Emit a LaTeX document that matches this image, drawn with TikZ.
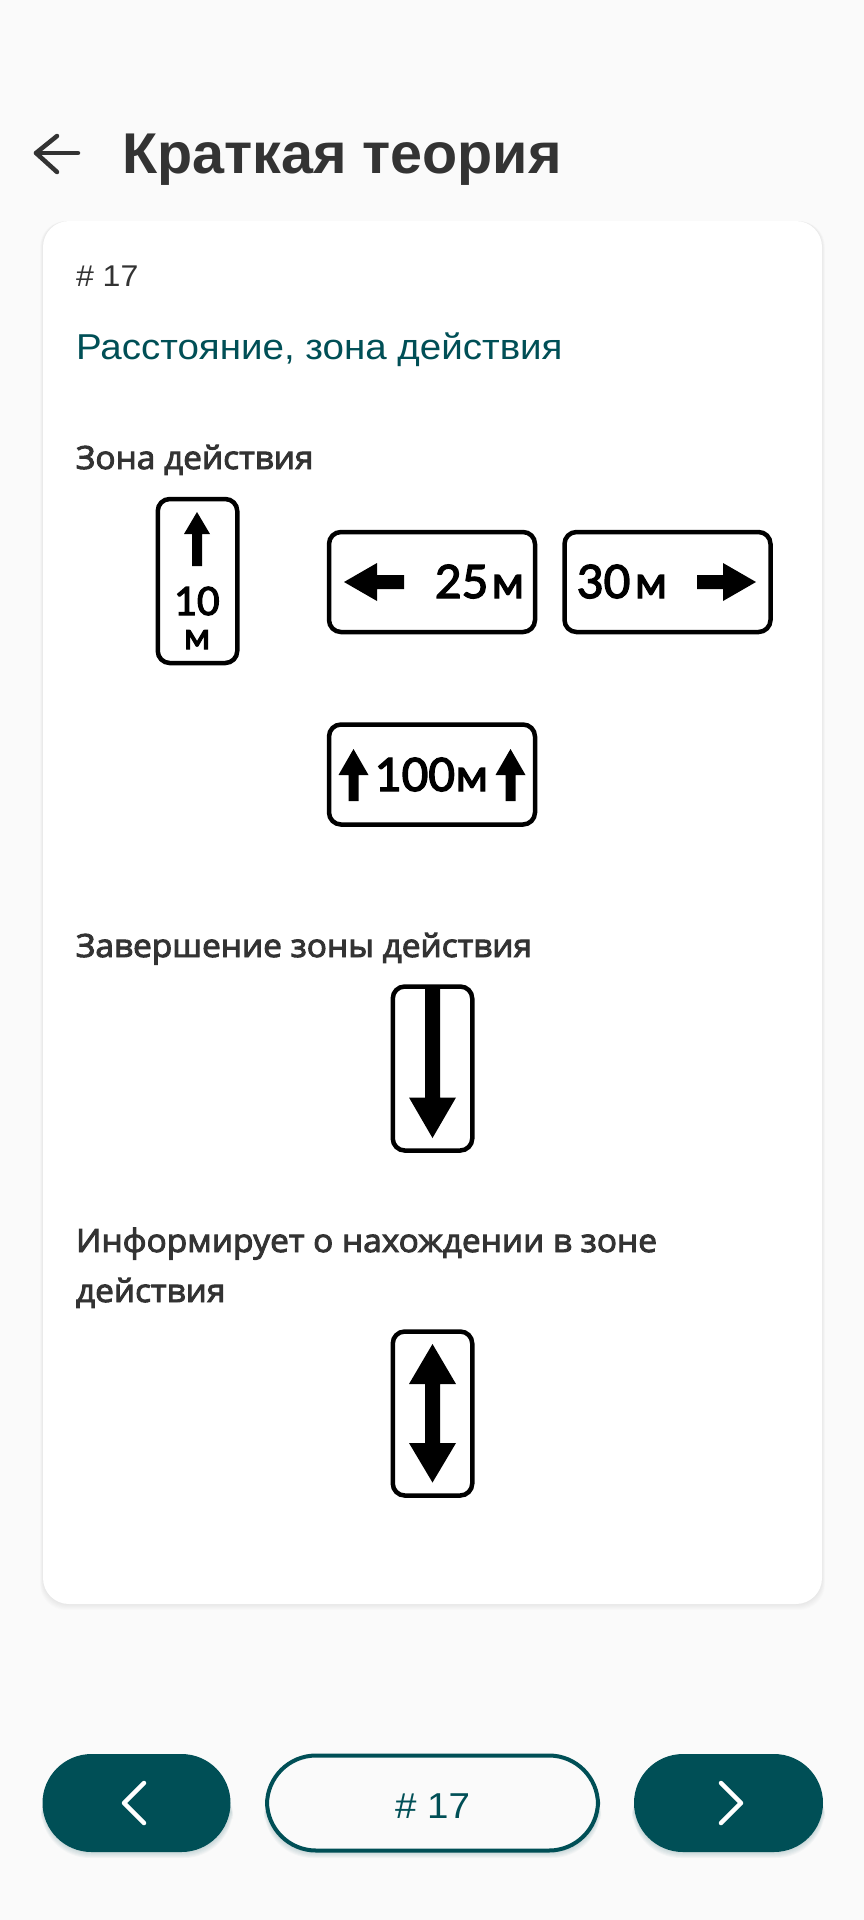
\documentclass[tikz,border=0pt]{standalone}
\usepackage{fontspec}
\setmainfont{Liberation Sans}
\newfontfamily\widefont[FakeStretch=1.07]{Liberation Sans}
\newfontfamily\headfont[FakeStretch=1.045,FakeBold=3]{Open Sans}
\newfontfamily\signfont[FakeBold=3]{Lato}
\definecolor{tealdark}{HTML}{004F56}
\definecolor{inkgray}{HTML}{333333}
\definecolor{pagegray}{HTML}{FAFAFA}
\newcommand{\fsz}[1]{\fontsize{#1}{#1}\selectfont}
\tikzset{
    txt/.style={inner sep=0pt, outer sep=0pt, anchor=base west, text=inkgray},
    headtxt/.style={txt, font=\headfont\fsz{32}},
    signbox/.style={draw=black, fill=white, line width=4.5pt, rounded corners=12pt, inner sep=0pt},
    tallsign/.style={signbox, minimum width=79.5, minimum height=164},
    widesign/.style={signbox, minimum width=206, minimum height=100},
    signnum/.style={inner sep=0pt, outer sep=0pt, anchor=base west, font=\signfont\fsz{46}},
    signunit/.style={inner sep=0pt, outer sep=0pt, anchor=base west, font=\signfont\fsz{45}},
    navbtn/.style={fill=tealdark, minimum width=188, minimum height=98, rounded corners=49pt, inner sep=0pt},
    glyph/.style={line width=4.5pt, line cap=round, line join=round},
}
\begin{document}
\begin{tikzpicture}[x=1pt, y=-1pt]
    \useasboundingbox (0,0) rectangle (864,1920);
    \fill[pagegray] (0,0) rectangle (864,1920);

    % soft shadows
    \foreach \d in {1,2,...,6} {
        \fill[black, opacity=0.01, rounded corners=26pt] (43-\d/2,221) rectangle (822+\d/2,1604+\d);
        \fill[tealdark, opacity=0.03, rounded corners=49pt] (43-\d/3,1770) rectangle (231+\d/3,1852+\d);
        \fill[tealdark, opacity=0.03, rounded corners=49pt] (266-\d/3,1770) rectangle (599+\d/3,1852+\d);
        \fill[tealdark, opacity=0.03, rounded corners=49pt] (634-\d/3,1770) rectangle (823+\d/3,1852+\d);
    }

    \node[fill=white, rounded corners=26pt, minimum width=779, minimum height=1383, inner sep=0pt] (card) at (432.5,912.5) {};

    % header
    \draw[glyph, inkgray] (78,153) -- (36,153);
    \draw[glyph, inkgray] (57,136) -- (36,153) -- (57,172);
    \node[txt, font=\fsz{57.5}\bfseries] (title) at (122,173) {Краткая теория};
    \node[txt, font=\widefont\fsz{30}] (number) at (76,286) {\# 17};
    \node[txt, font=\widefont\fsz{36}, text=tealdark] (topic) at (76,359) {Расстояние, зона действия};

    % headings
    \node[headtxt] (zone) at (76,469) {Зона действия};
    \node[headtxt] (zoneend) at (76,957) {Завершение зоны действия};
    \node[headtxt] (inzone) at (76,1252) {Информирует о нахождении в зоне};
    \node[headtxt] (inzonetwo) at (76,1302) {действия};

    % sign 10 m
    \node[tallsign] (signten) at (197.5,581) {};
    \fill (197,512) -- (210,534) -- (202,534) -- (202,566) -- (192,566) -- (192,534) -- (184,534) -- cycle;
    \node[signnum, anchor=base, font=\signfont\fsz{39}] (tennum) at (197,615) {10};
    \node[signunit, anchor=base, font=\signfont\fsz{37}] (tenunit) at (197,649) {м};

    % sign 25 m
    \node[widesign] (signleft) at (432,582) {};
    \fill (344,582) -- (377,563) -- (377,575) -- (404,575) -- (404,589) -- (377,589) -- (377,601) -- cycle;
    \node[signnum] (leftnum) at (435,598) {25};
    \node[signunit] (leftunit) at (492,598) {м};

    % sign 30 m
    \node[widesign] (signright) at (667.5,582) {};
    \fill (756,582) -- (723,563) -- (723,575) -- (697,575) -- (697,589) -- (723,589) -- (723,601) -- cycle;
    \node[signnum] (rightnum) at (577,598) {30};
    \node[signunit] (rightunit) at (635,598) {м};

    % sign 100 m
    \node[widesign] (signboth) at (432,774.5) {};
    \foreach \ax in {353.5,510.5} {
        \fill (\ax,749) -- (\ax+15,775) -- (\ax+5,775) -- (\ax+5,801) -- (\ax-5,801) -- (\ax-5,775) -- (\ax-15,775) -- cycle;
    }
    \node[signnum] (bothnum) at (375,791) {100};
    \node[signunit] (bothunit) at (456,791) {м};

    % end of zone
    \node[tallsign] (signend) at (432.5,1068.5) {};
    \fill (425,987) -- (440,987) -- (440,1097.5) -- (456,1097.5) -- (432.5,1138) -- (409,1097.5) -- (425,1097.5) -- cycle;

    % inside zone
    \node[tallsign] (signin) at (432.5,1413.5) {};
    \fill (432.5,1344) -- (456,1384) -- (440,1384) -- (440,1443) -- (456,1443) -- (432.5,1482.5) -- (409,1443) -- (425,1443) -- (425,1384) -- (409,1384) -- cycle;

    % bottom buttons
    \node[navbtn] (prevbtn) at (136.5,1803) {};
    \node[navbtn, draw=tealdark, fill=pagegray, line width=4pt, minimum width=331, minimum height=95] (midbtn) at (432.5,1803) {};
    \node[navbtn, minimum width=189] (nextbtn) at (728.5,1803) {};
    \node[inner sep=0pt, anchor=base, font=\widefont\fsz{36}, text=tealdark] (midtxt) at (432.5,1818) {\# 17};
    \draw[glyph, white] (144,1783) -- (124,1803) -- (144,1823);
    \draw[glyph, white] (721,1783) -- (741,1803) -- (721,1823);
\end{tikzpicture}
\end{document}
